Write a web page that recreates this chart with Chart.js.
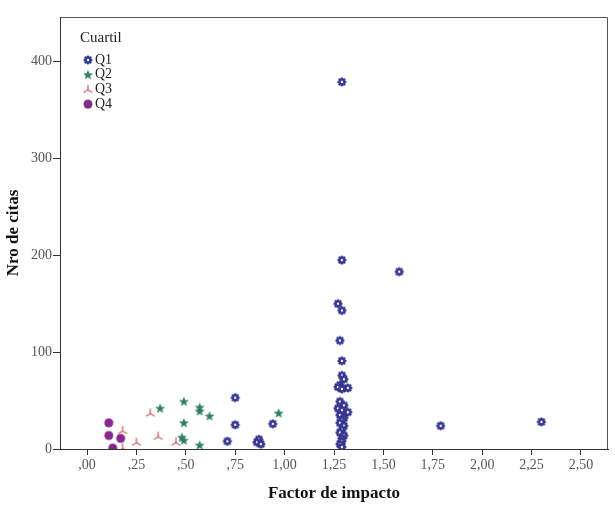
<!DOCTYPE html>
<html>
<head>
<meta charset="utf-8">
<script src="https://cdn.jsdelivr.net/npm/chart.js@4"></script>
<style>
  html, body { margin: 0; padding: 0; background: #fff; }
  #wrap { width: 615px; height: 505px; position: relative; }
</style>
</head>
<body>
<div id="wrap"><canvas id="chart" width="615" height="505"></canvas></div>
<script>
// data (Factor de impacto vs Nro de citas)
const seriesNames = ["Q1", "Q2", "Q3", "Q4"];

const q1X = [1.29, 1.29, 1.58, 1.27, 1.29, 1.28, 1.29, 1.29, 1.30, 1.28, 1.27, 1.32, 1.29, 1.28, 1.30, 1.27, 1.29, 1.32, 1.28, 1.30, 1.29, 1.28, 1.30, 1.29, 1.28, 1.30, 1.29, 1.29, 1.28, 1.29,
             0.75, 0.75, 0.71, 0.87, 0.86, 0.88, 0.94, 1.79, 2.30];
const q1Y = [379, 195, 183, 150, 143, 112, 91, 76, 72, 66, 64, 63, 62, 49, 45, 42, 40, 38, 35, 32, 30, 27, 24, 20, 17, 14, 11, 8, 5, 2,
             53, 25, 8, 10, 7, 5, 26, 24, 28];

const q2X = [0.37, 0.49, 0.57, 0.57, 0.62, 0.49, 0.48, 0.49, 0.57, 0.97];
const q2Y = [42, 49, 43, 39, 34, 27, 12, 9, 4, 37];

const q3X = [0.32, 0.18, 0.25, 0.36, 0.45, 0.18];
const q3Y = [37, 19, 7, 13, 7, 1];

const q4X = [0.11, 0.11, 0.17, 0.13];
const q4Y = [27, 14, 11, 1];

const colors = ["#37378f", "#2f7f62", "#cf6262", "#86288c"];

const yTicks = [0, 100, 200, 300, 400];

// marker images
function makeCanvas(size) {
  const c = document.createElement("canvas");
  c.width = size; c.height = size;
  return c;
}

function gearIcon(color) {
  const c = makeCanvas(12), g = c.getContext("2d");
  g.fillStyle = color;
  for (let i = 0; i < 8; i++) {
    const a = i * Math.PI / 4;
    g.beginPath();
    g.arc(6 + Math.cos(a) * 3.3, 6 + Math.sin(a) * 3.3, 1.3, 0, Math.PI * 2);
    g.fill();
  }
  g.beginPath(); g.arc(6, 6, 3.2, 0, Math.PI * 2); g.fill();
  g.fillStyle = "#fff";
  g.beginPath(); g.arc(6, 6, 1.2, 0, Math.PI * 2); g.fill();
  return c;
}

function starIcon(color) {
  const c = makeCanvas(12), g = c.getContext("2d");
  g.fillStyle = color;
  g.beginPath();
  for (let i = 0; i < 10; i++) {
    const r = i % 2 === 0 ? 5.3 : 2.2;
    const a = -Math.PI / 2 + i * Math.PI / 5;
    const px = 6 + Math.cos(a) * r, py = 6.3 + Math.sin(a) * r;
    if (i === 0) g.moveTo(px, py); else g.lineTo(px, py);
  }
  g.closePath();
  g.fill();
  return c;
}

function triIcon(color) {
  const c = makeCanvas(12), g = c.getContext("2d");
  g.strokeStyle = color;
  g.lineWidth = 1.3;
  g.lineCap = "round";
  const arms = [-Math.PI / 2, Math.PI / 6, 5 * Math.PI / 6];
  arms.forEach(a => {
    g.beginPath();
    g.moveTo(6, 6.5);
    g.lineTo(6 + Math.cos(a) * 4.6, 6.5 + Math.sin(a) * 4.6);
    g.stroke();
  });
  return c;
}

function dotIcon(color) {
  const c = makeCanvas(12), g = c.getContext("2d");
  g.fillStyle = color;
  g.beginPath(); g.arc(6, 6, 4.5, 0, Math.PI * 2); g.fill();
  return c;
}

const icons = [gearIcon(colors[0]), starIcon(colors[1]), triIcon(colors[2]), dotIcon(colors[3])];

function toPoints(xs, ys) {
  return xs.map((x, i) => ({ x: x, y: ys[i] }));
}

const allX = [q1X, q2X, q3X, q4X];
const allY = [q1Y, q2Y, q3Y, q4Y];

const datasets = seriesNames.map((name, i) => ({
  label: name,
  data: toPoints(allX[i], allY[i]),
  pointStyle: icons[i],
  backgroundColor: colors[i],
  borderColor: colors[i]
}));

// frame on top and right + legend box
const framePlugin = {
  id: "frame",
  afterDraw(chart) {
    const { ctx, chartArea: a } = chart;
    ctx.save();
    ctx.strokeStyle = "#555";
    ctx.lineWidth = 1;
    ctx.beginPath();
    ctx.moveTo(a.left, a.top + 0.5);
    ctx.lineTo(a.right - 0.5, a.top + 0.5);
    ctx.lineTo(a.right - 0.5, a.bottom);
    ctx.stroke();

    // legend
    ctx.fillStyle = "#222";
    ctx.font = "15px 'Liberation Serif'";
    ctx.textBaseline = "middle";
    ctx.fillText("Cuartil", 80, 38);
    ctx.font = "14px 'Liberation Serif'";
    seriesNames.forEach((name, i) => {
      const y = 60 + i * 14.7;
      ctx.drawImage(icons[i], 88 - 6, y - 6);
      ctx.fillStyle = "#222";
      ctx.fillText(name, 95, y);
    });
    ctx.restore();
  }
};

function fmtX(v) {
  let s = v.toFixed(2).replace(".", ",");
  if (s.startsWith("0")) s = s.slice(1);
  return s;
}

new Chart(document.getElementById("chart"), {
  type: "scatter",
  data: { datasets: datasets },
  options: {
    responsive: false,
    animation: false,
    events: [],
    layout: { padding: { top: 17, right: 7, left: 0, bottom: 0 } },
    plugins: {
      legend: { display: false },
      tooltip: { enabled: false }
    },
    scales: {
      x: {
        type: "linear",
        min: -0.137,
        max: 2.637,
        afterFit: s => { s.height = 56; },
        border: { color: "#333", width: 1 },
        grid: { drawOnChartArea: false, drawTicks: true, tickLength: 6, color: "#333" },
        ticks: {
          stepSize: 0.25,
          includeBounds: false,
          padding: 2,
          color: "#555",
          font: { family: "'Liberation Serif'", size: 14 },
          callback: v => fmtX(v)
        },
        title: {
          display: true,
          text: "Factor de impacto",
          color: "#111",
          font: { family: "'Liberation Serif'", size: 17, weight: "bold" },
          padding: { top: 6, bottom: 1 }
        }
      },
      y: {
        type: "linear",
        min: 0,
        max: 446,
        afterFit: s => { s.width = 60; },
        afterBuildTicks: s => { s.ticks = yTicks.map(v => ({ value: v })); },
        border: { color: "#333", width: 1 },
        grid: { drawOnChartArea: false, drawTicks: true, tickLength: 7, color: "#333" },
        ticks: {
          padding: 1,
          color: "#555",
          font: { family: "'Liberation Serif'", size: 14 }
        },
        title: {
          display: true,
          text: "Nro de citas",
          color: "#111",
          font: { family: "'Liberation Serif'", size: 17, weight: "bold" },
          padding: { top: 3, bottom: 0 }
        }
      }
    }
  },
  plugins: [framePlugin]
});
</script>
</body>
</html>
